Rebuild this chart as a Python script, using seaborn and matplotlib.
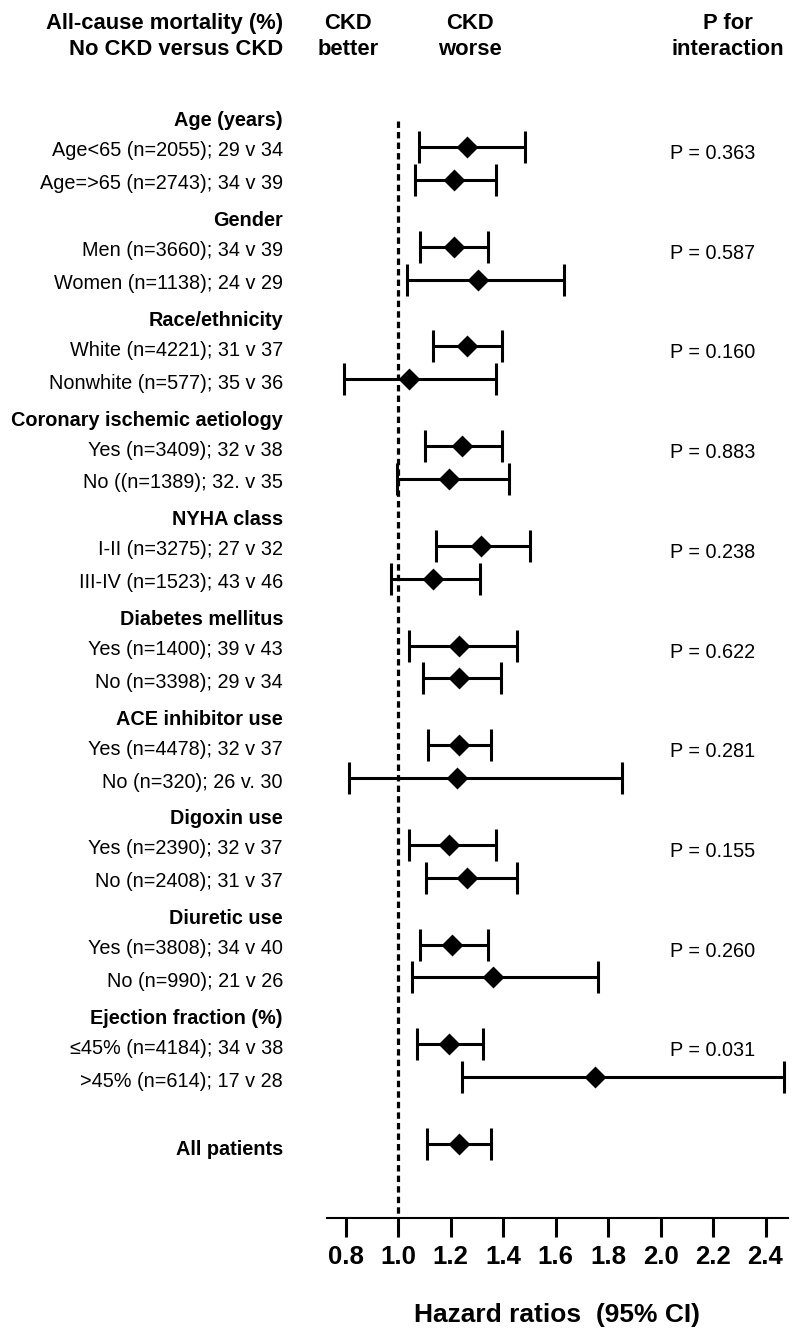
import numpy as np
import pandas as pd
import matplotlib
matplotlib.use("Agg")
import matplotlib.pyplot as plt
import matplotlib.transforms as mtransforms
import seaborn as sns

# subgroup data
groups = ["Age (years)", "Gender", "Race/ethnicity", "Coronary ischemic aetiology",
          "NYHA class", "Diabetes mellitus", "ACE inhibitor use", "Digoxin use",
          "Diuretic use", "Ejection fraction (%)"]
labels = ["Age<65 (n=2055); 29 v 34", "Age=>65 (n=2743); 34 v 39",
          "Men (n=3660); 34 v 39", "Women (n=1138); 24 v 29",
          "White (n=4221); 31 v 37", "Nonwhite (n=577); 35 v 36",
          "Yes (n=3409); 32 v 38", "No ((n=1389); 32. v 35",
          "I-II (n=3275); 27 v 32", "III-IV (n=1523); 43 v 46",
          "Yes (n=1400); 39 v 43", "No (n=3398); 29 v 34",
          "Yes (n=4478); 32 v 37", "No (n=320); 26 v. 30",
          "Yes (n=2390); 32 v 37", "No (n=2408); 31 v 37",
          "Yes (n=3808); 34 v 40", "No (n=990); 21 v 26",
          "≤45% (n=4184); 34 v 38", ">45% (n=614); 17 v 28"]
hr = [1.263, 1.213, 1.213, 1.305, 1.262, 1.043, 1.243, 1.194, 1.315, 1.135,
      1.234, 1.234, 1.234, 1.224, 1.194, 1.264, 1.204, 1.363, 1.194, 1.752]
ci_lo = [1.080, 1.065, 1.084, 1.033, 1.135, 0.794, 1.103, 0.997, 1.145, 0.973,
         1.043, 1.094, 1.113, 0.814, 1.043, 1.105, 1.084, 1.052, 1.071, 1.245]
ci_hi = [1.484, 1.373, 1.344, 1.634, 1.395, 1.372, 1.395, 1.423, 1.503, 1.312,
         1.452, 1.392, 1.353, 1.852, 1.372, 1.452, 1.344, 1.761, 1.325, 2.470]
p_interaction = ["0.363", "0.587", "0.160", "0.883", "0.238",
                 "0.622", "0.281", "0.155", "0.260", "0.031"]
overall_label = "All patients"
overall_hr, overall_lo, overall_hi = 1.234, 1.112, 1.354
xticks = [0.8, 1.0, 1.2, 1.4, 1.6, 1.8, 2.0, 2.2, 2.4]

# layout (vertical units = pixels from the top of the figure)
W, H = 800, 1335
FIRST_ROW, GROUP_STEP, ROW_STEP = 147, 99.7, 32.8
AXIS_Y = 1218
LABEL_X = 283 / W

sns.set_style("white")
plt.rcParams["font.family"] = ["Liberation Sans", "DejaVu Sans"]
plt.rcParams["text.color"] = "black"
plt.rcParams["axes.labelcolor"] = "black"
plt.rcParams["xtick.color"] = "black"

group_y = [FIRST_ROW + i * GROUP_STEP for i in range(len(groups))]
row_y = []
for gy in group_y:
    row_y += [gy, gy + ROW_STEP]
overall_y = FIRST_ROW + len(groups) * GROUP_STEP

df = pd.DataFrame({
    "label": labels + [overall_label],
    "hr": hr + [overall_hr],
    "lo": ci_lo + [overall_lo],
    "hi": ci_hi + [overall_hi],
    "y": row_y + [overall_y],
})

fig = plt.figure(figsize=(W / 100, H / 100), dpi=100)
ax_left, ax_right = 326.7 / W, 788.3 / W
ax = fig.add_axes([ax_left, 1 - AXIS_Y / H, ax_right - ax_left, AXIS_Y / H])

px_per_unit = 262.5
ax.set_xlim(1 + (326.7 - 398) / px_per_unit, 1 + (788.3 - 398) / px_per_unit)
ax.set_ylim(AXIS_Y, 0)

# reference line at HR = 1
ax.vlines(1.0, 121, AXIS_Y, colors="black", linewidth=2.3,
          linestyles=(0, (2.0, 1.3)), zorder=1)

# confidence intervals
ax.errorbar(df["hr"], df["y"], xerr=[df["hr"] - df["lo"], df["hi"] - df["hr"]],
            fmt="none", ecolor="black", elinewidth=2.2, capsize=11.5,
            capthick=2.2, zorder=2, clip_on=False)
# point estimates
sns.scatterplot(data=df, x="hr", y="y", marker="D", s=125, color="black",
                linewidth=0, zorder=3, ax=ax, clip_on=False)

# axis styling
for side in ["top", "right", "left"]:
    ax.spines[side].set_visible(False)
ax.spines["bottom"].set_linewidth(1.5)
ax.spines["bottom"].set_color("black")
ax.set_yticks([])
ax.set_xticks(xticks)
ax.set_xticklabels([f"{t:.1f}" for t in xticks], fontsize=18.5, fontweight="bold")
ax.tick_params(axis="x", direction="out", length=13.7, width=2.2, pad=6,
               bottom=True, colors="black")
ax.set_ylabel("")
ax.set_xlabel("Hazard ratios  (95% CI)", fontsize=19, fontweight="bold", labelpad=24)

trans = mtransforms.blended_transform_factory(fig.transFigure, ax.transData)

# left column labels
for g, gy in zip(groups, group_y):
    ax.text(LABEL_X, gy - 20.5, g, transform=trans, ha="right", va="baseline",
            fontsize=14.3, fontweight="bold")
for lab, y in zip(labels, row_y):
    ax.text(LABEL_X, y + 9.5, lab, transform=trans, ha="right", va="baseline",
            fontsize=14.3)
ax.text(LABEL_X, overall_y + 11, overall_label, transform=trans, ha="right",
        va="baseline", fontsize=14.3, fontweight="bold")

# p values
for p, gy in zip(p_interaction, group_y):
    ax.text(670 / W, gy + 12, f"P = {p}", transform=trans, ha="left",
            va="baseline", fontsize=14.3)

# column headers
headers = [
    (LABEL_X, "right", ["All-cause mortality (%)", "No CKD versus CKD"]),
    (348 / W, "center", ["CKD", "better"]),
    (470 / W, "center", ["CKD", "worse"]),
    (728 / W, "center", ["P for", "interaction"]),
]
for hx, ha, lines in headers:
    for k, line in enumerate(lines):
        ax.text(hx, 29 + 26 * k, line, transform=trans, ha=ha, va="baseline",
                fontsize=15.8, fontweight="bold")

fig.savefig("out.png", dpi=100, facecolor="white")
